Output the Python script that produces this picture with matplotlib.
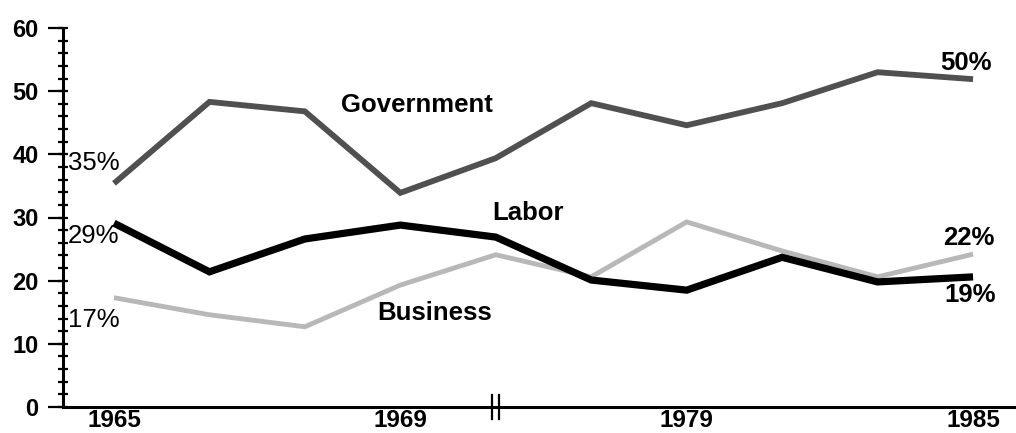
import matplotlib
matplotlib.use("Agg")
import matplotlib.pyplot as plt
from matplotlib.ticker import MultipleLocator, FixedLocator

plt.rcParams['font.family'] = ['Liberation Sans', 'DejaVu Sans']

# ---- data ----
points = list(range(10))                      # evenly spaced survey points
tick_pos = [0, 3, 6, 9]
tick_labels = ['1965', '1969', '1979', '1985']
break_pos = 4

government = [35.4, 48.3, 46.8, 33.9, 39.4, 48.1, 44.6, 48.1, 53.0, 51.9]
labor      = [29.1, 21.4, 26.6, 28.8, 26.9, 20.1, 18.5, 23.7, 19.8, 20.6]
business   = [17.3, 14.6, 12.7, 19.3, 24.1, 20.6, 29.3, 24.7, 20.6, 24.2]

fig = plt.figure(figsize=(10.16, 4.33), dpi=100)
ax = fig.add_axes([63/1016, 26/433, 1 - 63/1016, 379/433])

ax.plot(points, business, color='#b8b8b8', lw=3.5, solid_capstyle='butt', solid_joinstyle='miter', zorder=2)
ax.plot(points, government, color='#505050', lw=4.2, solid_capstyle='butt', solid_joinstyle='miter', zorder=3)
ax.plot(points, labor, color='black', lw=5.2, solid_capstyle='butt', solid_joinstyle='miter', zorder=4)

ax.set_xlim(-0.534, 9.45)
ax.set_ylim(0, 60)

for s in ['top', 'right']:
    ax.spines[s].set_visible(False)
ax.spines['left'].set_linewidth(2.2)
ax.spines['bottom'].set_linewidth(2.2)

ax.yaxis.set_major_locator(MultipleLocator(10))
ax.yaxis.set_minor_locator(MultipleLocator(2))
ax.yaxis.remove_overlapping_locs = False
ax.tick_params(axis='y', which='major', direction='out', length=10.5, width=1.6, pad=7,
               labelsize=17)
ax.tick_params(axis='y', which='minor', direction='inout', length=7, width=1.6)
for lab in ax.get_yticklabels():
    lab.set_fontweight('bold')

ax.xaxis.set_major_locator(FixedLocator(tick_pos))
ax.set_xticklabels(tick_labels, fontsize=17.5, fontweight='bold')
ax.tick_params(axis='x', which='major', length=0, pad=1.5)

# axis break mark
for dx in (-0.035, 0.035):
    ax.plot([break_pos + dx, break_pos + dx], [-1.9, 1.9], color='black', lw=1.6,
            clip_on=False, zorder=5)

# series labels
ax.text(3.17, 47.8, 'Government', fontsize=18.5, fontweight='bold', ha='center', va='center')
ax.text(4.34, 30.7, 'Labor', fontsize=18.5, fontweight='bold', ha='center', va='center')
ax.text(3.36, 14.9, 'Business', fontsize=18.5, fontweight='bold', ha='center', va='center')

# value labels
ax.text(-0.48, 38.6, '35%', fontsize=18.5, ha='left', va='center')
ax.text(-0.48, 27.0, '29%', fontsize=18.5, ha='left', va='center')
ax.text(-0.48, 13.7, '17%', fontsize=18.5, ha='left', va='center')
ax.text(8.93, 54.5, '50%', fontsize=18.5, fontweight='bold', ha='center', va='center')
ax.text(8.96, 26.8, '22%', fontsize=18.5, fontweight='bold', ha='center', va='center')
ax.text(8.97, 17.7, '19%', fontsize=18.5, fontweight='bold', ha='center', va='center')

fig.savefig('out.png', dpi=100)
